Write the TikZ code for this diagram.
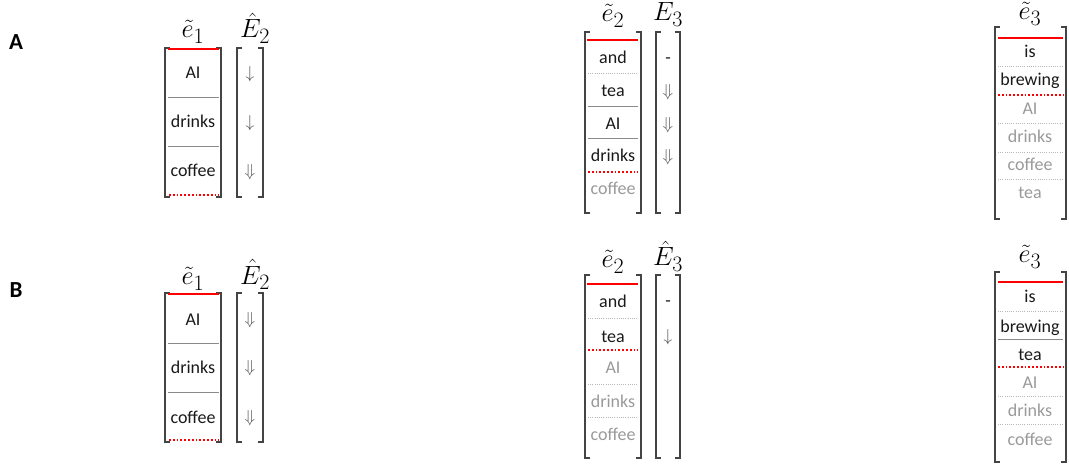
\documentclass[tikz,border=0pt]{standalone}
\usepackage{fontspec}
\newfontfamily\carl{Carlito}
\definecolor{txt}{HTML}{1A1A1A}
\definecolor{gtxt}{HTML}{9A9A9A}
\definecolor{brc}{HTML}{444444}
\definecolor{sepc}{HTML}{8A8A8A}
\definecolor{dsepc}{HTML}{B8B8B8}
\definecolor{arrc}{HTML}{555555}
\definecolor{redc}{HTML}{FF0000}
\newcommand{\wfont}{\carl\fontsize{18}{18}\selectfont}
\newcommand{\mlabfont}{\fontsize{24.88}{25}\selectfont}
\newcommand{\arrfont}{\fontsize{17.28}{18}\selectfont}
\newcommand{\panfont}{\carl\bfseries\fontsize{23}{23}\selectfont}
\newcommand{\mybrk}[4]{%
  \draw[brk] ({#1+5},#3) -- (#1,#3) -- (#1,#4) -- ({#1+5},#4);
  \draw[brk] ({#2-5},#3) -- (#2,#3) -- (#2,#4) -- ({#2-5},#4);}
\tikzset{
  wd/.style={font=\wfont, text=txt, inner sep=0pt, text height=11pt, text depth=1pt},
  gw/.style={wd, text=gtxt},
  lab/.style={font=\mlabfont, inner sep=0pt, anchor=base, scale=1.06},
  arr/.style={font=\arrfont, text=arrc, inner sep=0pt},
  panel/.style={font=\panfont, inner sep=0pt},
  brk/.style={draw=brc, line width=1.4pt},
  redline/.style={draw=redc, line width=2.2pt},
  reddot/.style={draw=redc, line width=1.8pt, dash pattern=on 1.8pt off 2pt},
  sepline/.style={draw=sepc, line width=1pt},
  dsep/.style={draw=dsepc, line width=0.7pt, dash pattern=on 1pt off 1.2pt}
}
\begin{document}
\begin{tikzpicture}[x=1pt,y=-1pt]
\useasboundingbox (0,0) rectangle (1069,465);
\fill[white] (0,0) rectangle (1069,465);
% panel letters
\node[panel] (labA) at (16,42) {A};
\node[panel] (labB) at (16,290) {B};

%%%%%%%% A left
\node[lab] (Ae1) at (193,38) {$\tilde{e}_1$};
\node[lab] (AE2) at (255,38) {$\hat{E}_2$};
\mybrk{165}{221}{48}{197}
\mybrk{237}{263}{48}{197}
\draw[redline] (168,49) -- (219,49);
\draw[sepline] (168,98) -- (219,98);
\draw[sepline] (168,147) -- (219,147);
\draw[reddot] (169,195) -- (219,195);
\node[wd] (Aw1) at (193,74) {AI};
\node[wd] (Aw2) at (193,123) {drinks};
\node[wd] (Aw3) at (193,172) {coffee};
\node[arr] (Aa1) at (250,74) {$\downarrow$};
\node[arr] (Aa2) at (250,123) {$\downarrow$};
\node[arr] (Aa3) at (250,172) {$\Downarrow$};

%%%%%%%% A middle
\node[lab] (Ae2) at (613,22) {$\tilde{e}_2$};
\node[lab] (AE3) at (668,21) {$E_3$};
\mybrk{585}{641}{32}{213}
\mybrk{656}{680}{32}{213}
\draw[redline] (587,40) -- (638,40);
\draw[dsep] (588,73) -- (638,73);
\draw[sepline] (588,107) -- (638,107);
\draw[sepline] (588,139) -- (638,139);
\draw[reddot] (588,172) -- (638,172);
\node[wd] (Am1) at (613,59) {and};
\node[wd] (Am2) at (613,92) {tea};
\node[wd] (Am3) at (613,125) {AI};
\node[wd] (Am4) at (613,157) {drinks};
\node[gw] (Am5) at (613,190) {coffee};
\node[wd] (Ab1) at (668,59) {-};
\node[arr] (Ab2) at (668,92) {$\Downarrow$};
\node[arr] (Ab3) at (668,125) {$\Downarrow$};
\node[arr] (Ab4) at (668,157) {$\Downarrow$};

%%%%%%%% A right
\node[lab] (Ae3) at (1030,20) {$\tilde{e}_3$};
\mybrk{995}{1066}{27}{219}
\draw[redline] (998,38) -- (1063,38);
\draw[dsep] (998,66) -- (1063,66);
\draw[reddot] (998,95) -- (1063,95);
\draw[dsep] (998,123) -- (1063,123);
\draw[dsep] (998,152) -- (1063,152);
\draw[dsep] (998,179) -- (1063,179);
\node[wd] (Ar1) at (1030,53) {is};
\node[wd] (Ar2) at (1030,81) {brewing};
\node[gw] (Ar3) at (1030,110) {AI};
\node[gw] (Ar4) at (1030,138) {drinks};
\node[gw] (Ar5) at (1030,166) {coffee};
\node[gw] (Ar6) at (1030,194) {tea};

%%%%%%%% B left
\node[lab] (Be1) at (193,285) {$\tilde{e}_1$};
\node[lab] (BE2) at (255,284) {$\hat{E}_2$};
\mybrk{165}{221}{293}{442}
\mybrk{237}{263}{293}{442}
\draw[redline] (168,294) -- (219,294);
\draw[sepline] (168,343) -- (219,343);
\draw[sepline] (168,392) -- (219,392);
\draw[reddot] (169,440) -- (219,440);
\node[wd] (Bw1) at (193,320) {AI};
\node[wd] (Bw2) at (193,368) {drinks};
\node[wd] (Bw3) at (193,418) {coffee};
\node[arr] (Ba1) at (250,320) {$\Downarrow$};
\node[arr] (Ba2) at (250,368) {$\Downarrow$};
\node[arr] (Ba3) at (250,418) {$\Downarrow$};

%%%%%%%% B middle
\node[lab] (Be2) at (613,268) {$\tilde{e}_2$};
\node[lab] (BE3) at (668,266) {$\hat{E}_3$};
\mybrk{585}{641}{275}{458}
\mybrk{656}{680}{275}{458}
\draw[redline] (587,284) -- (638,284);
\draw[dsep] (588,318) -- (638,318);
\draw[reddot] (588,350) -- (638,350);
\draw[dsep] (588,384) -- (638,384);
\draw[dsep] (588,417) -- (638,417);
\node[wd] (Bm1) at (613,303) {and};
\node[wd] (Bm2) at (613,337) {tea};
\node[gw] (Bm3) at (613,368) {AI};
\node[gw] (Bm4) at (613,402) {drinks};
\node[gw] (Bm5) at (613,435) {coffee};
\node[wd] (Bb1) at (668,302) {-};
\node[arr] (Bb2) at (668,337) {$\downarrow$};

%%%%%%%% B right
\node[lab] (Be3) at (1030,263) {$\tilde{e}_3$};
\mybrk{995}{1066}{272}{462}
\draw[redline] (998,282) -- (1063,282);
\draw[dsep] (998,311) -- (1063,311);
\draw[sepline] (998,339) -- (1063,339);
\draw[reddot] (998,367) -- (1063,367);
\draw[dsep] (998,396) -- (1063,396);
\draw[dsep] (998,424) -- (1063,424);
\node[wd] (Br1) at (1030,298) {is};
\node[wd] (Br2) at (1030,327) {brewing};
\node[wd] (Br3) at (1030,355) {tea};
\node[gw] (Br4) at (1030,383) {AI};
\node[gw] (Br5) at (1030,411) {drinks};
\node[gw] (Br6) at (1030,440) {coffee};
\end{tikzpicture}
\end{document}
